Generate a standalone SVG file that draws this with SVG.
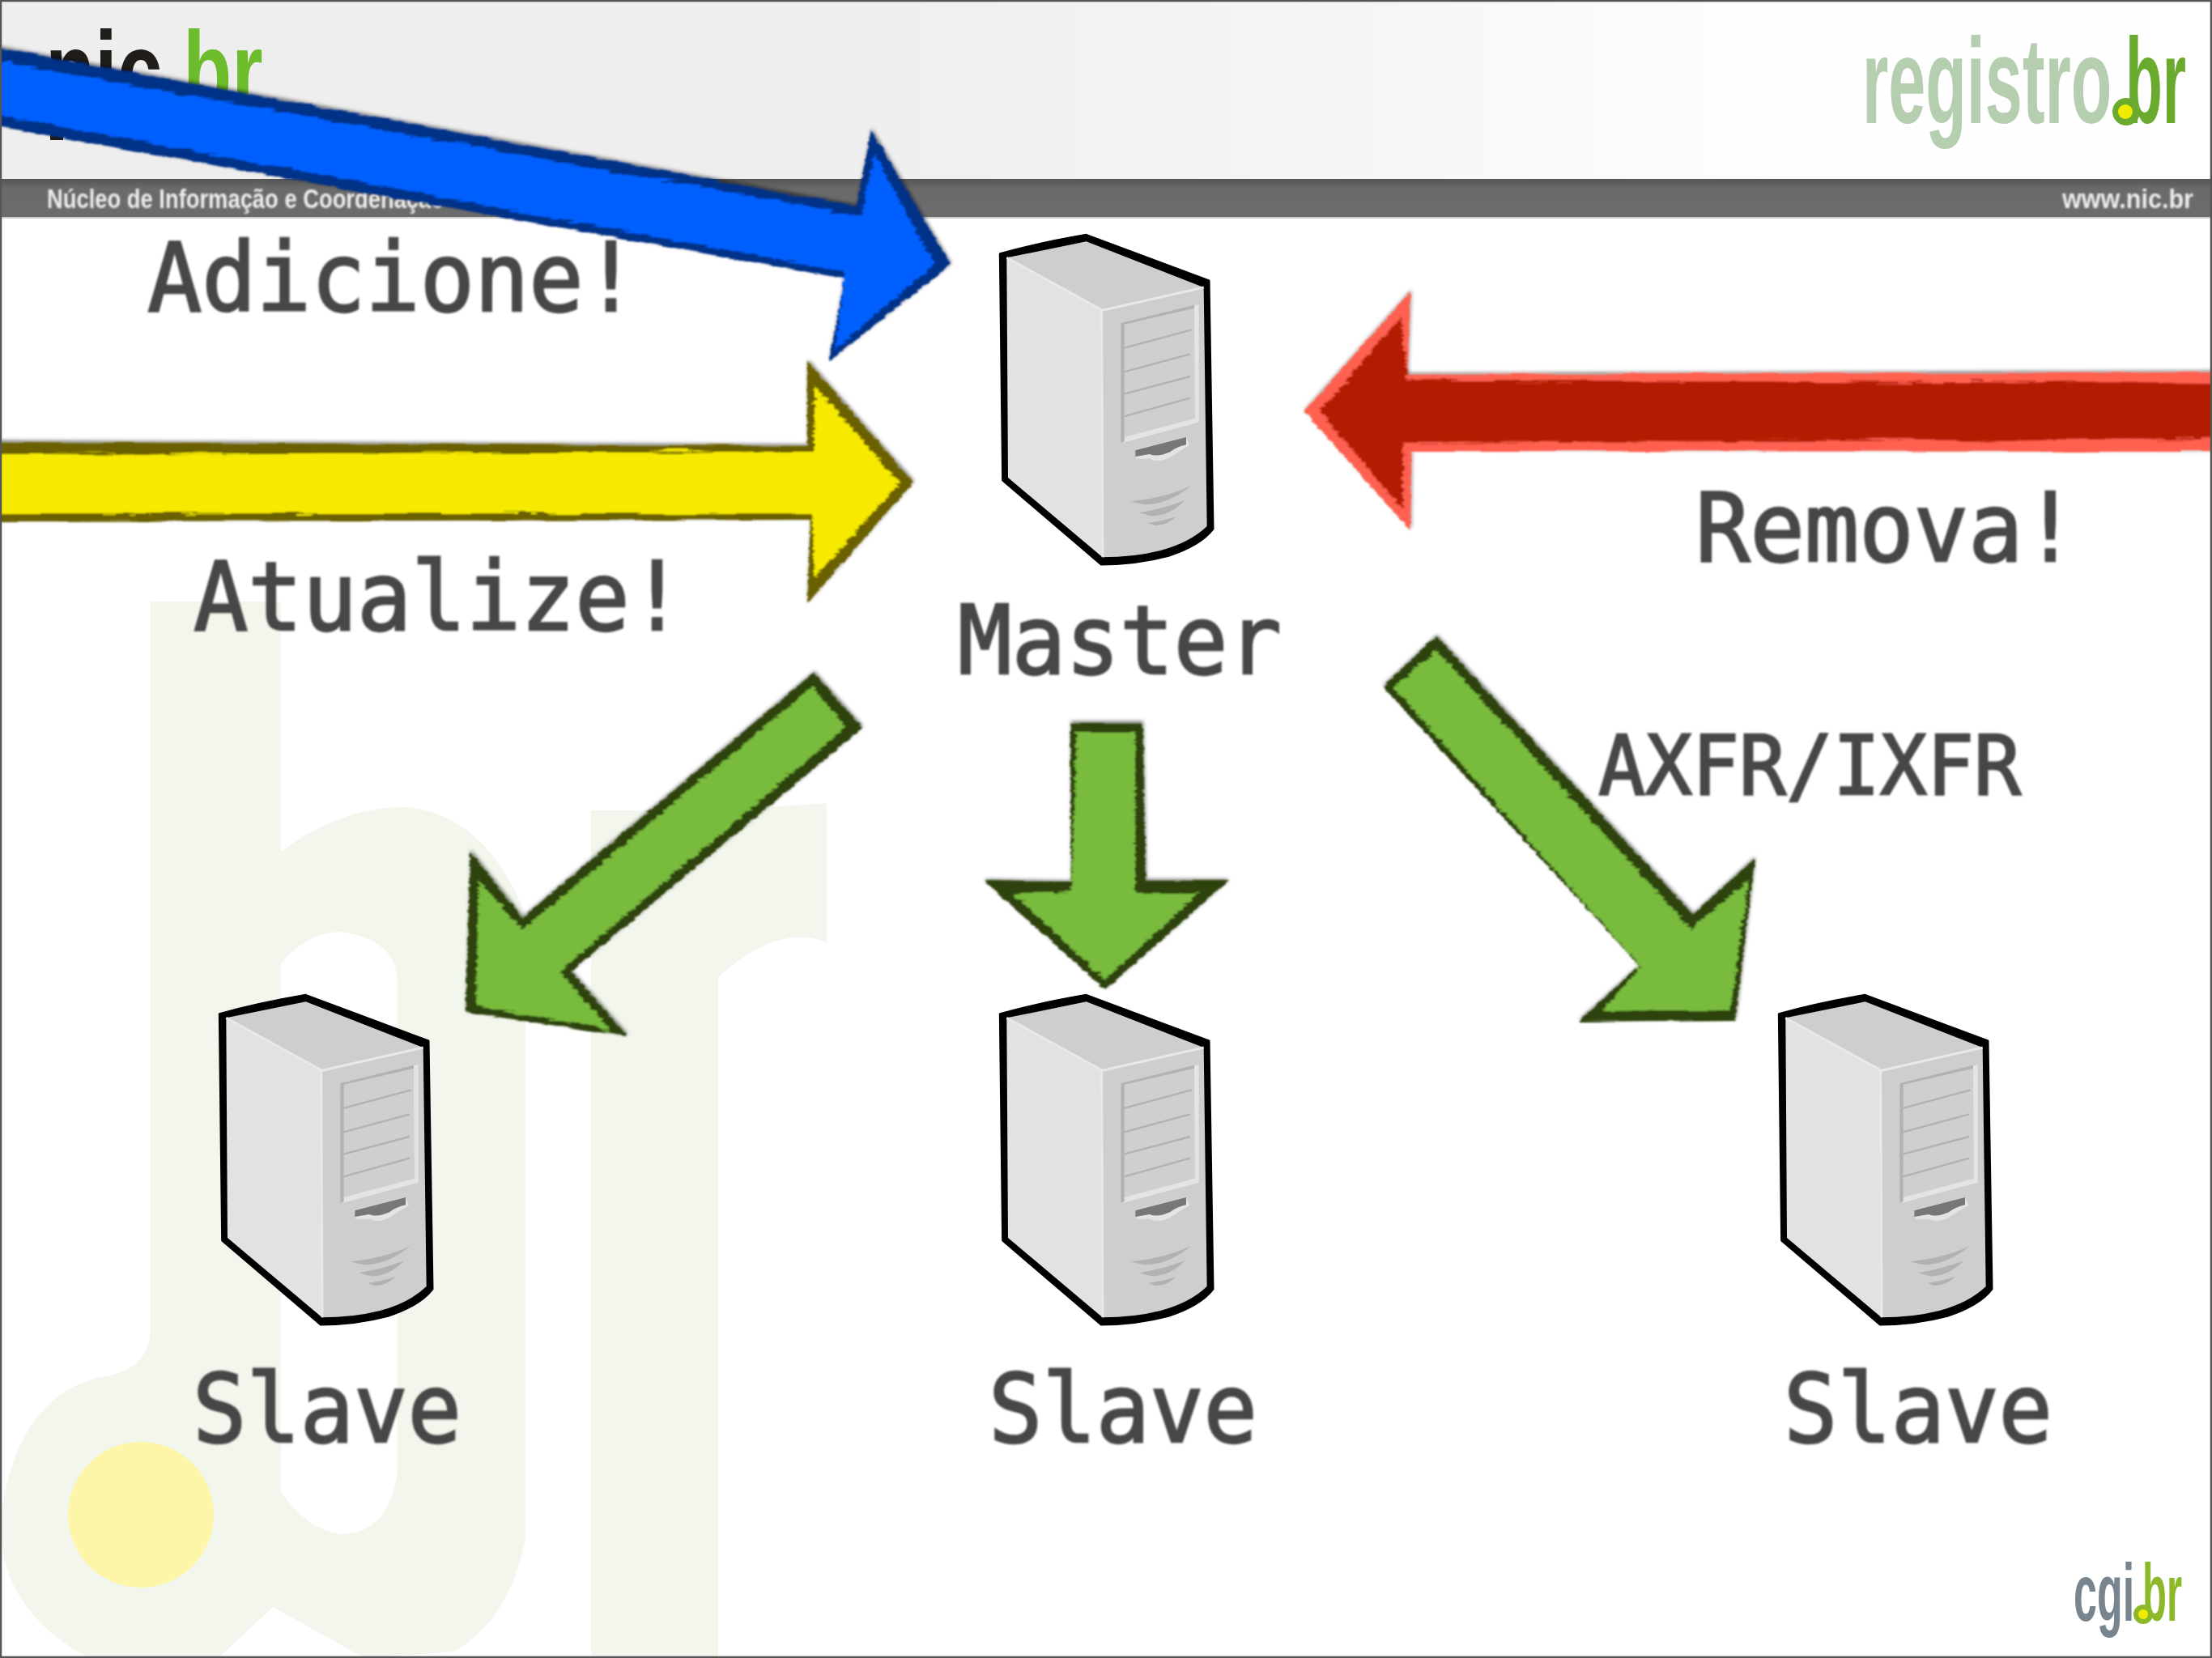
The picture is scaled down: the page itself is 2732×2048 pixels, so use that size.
<svg xmlns="http://www.w3.org/2000/svg" width="2732" height="2048" viewBox="0 0 2732 2048">
<style>
.label{font-family:"DejaVu Sans Mono","Liberation Mono",monospace;font-size:118px;fill:#464646;stroke:#464646;stroke-width:2.5px;filter:url(#soft)}
.small{font-size:102px}
.logo{font-family:"Liberation Sans","Noto Sans",sans-serif;font-weight:700}
.bar{font-family:"Liberation Sans","Noto Sans",sans-serif;font-weight:700;font-size:33px;fill:#ececec;filter:url(#soft)}
.wm{fill:#f2f6ec}
.arrow{filter:url(#rough)}
.fill{filter:url(#streak)}
.gedge{fill:#2d430e}.gfill{fill:#78bb3e}
</style>
<defs>
<linearGradient id="head" x1="0" x2="1" y1="0" y2="0">
<stop offset="0" stop-color="#eeeeee"/><stop offset=".38" stop-color="#eeeeee"/><stop offset=".6" stop-color="#f5f5f5"/><stop offset=".8" stop-color="#fefefe"/><stop offset="1" stop-color="#ffffff"/>
</linearGradient>
<linearGradient id="barg" x1="0" x2="0" y1="0" y2="1">
<stop offset="0" stop-color="#555555"/><stop offset=".25" stop-color="#6a6a6a"/><stop offset="1" stop-color="#6c6c6c"/>
</linearGradient>
<filter id="soft" x="-5%" y="-10%" width="110%" height="120%"><feGaussianBlur stdDeviation=".8"/></filter>
<filter id="streak" filterUnits="userSpaceOnUse" x="-40" y="-40" width="2812" height="2128">
<feTurbulence type="fractalNoise" baseFrequency=".01 .5" numOctaves="2" seed="9" result="n"/>
<feDisplacementMap in="SourceGraphic" in2="n" scale="9" xChannelSelector="R" yChannelSelector="G"/>
</filter>
<filter id="rough" filterUnits="userSpaceOnUse" x="-40" y="-40" width="2812" height="2128">
<feTurbulence type="fractalNoise" baseFrequency=".015 .25" numOctaves="2" seed="4" result="n"/>
<feDisplacementMap in="SourceGraphic" in2="n" scale="6" xChannelSelector="R" yChannelSelector="G" result="d"/>
<feGaussianBlur in="d" stdDeviation=".8" result="b"/>
<feGaussianBlur in="SourceAlpha" stdDeviation="2.5" result="sa"/>
<feOffset in="sa" dx="1" dy="-2" result="so"/>
<feFlood flood-color="#000" flood-opacity=".55"/>
<feComposite in2="so" operator="in" result="sh"/>
<feMerge><feMergeNode in="sh"/><feMergeNode in="b"/></feMerge>
</filter>
<g id="server" transform="scale(.33333)">
<path d="M255,190 Q400,150 575,120 L1030,290 L1045,1210 Q1000,1270 880,1310 Q760,1342 630,1342 L265,1030 Z" fill="#000" stroke="#000" stroke-width="7" stroke-linejoin="round"/>
<path d="M280,205 L635,400 L635,1315 L285,1020 Z" fill="#e2e2e2"/>
<path d="M280,205 L575,145 L1010,315 L635,400 Z" fill="#cecece"/>
<path d="M635,400 L1010,315 L1022,1200 Q960,1260 850,1290 Q750,1315 635,1315 Z" fill="#cecece"/>
<path d="M280,205 L635,400 L1010,315 M632,400 L636,1315" fill="none" stroke="#e8e8e8" stroke-width="9"/>
<path d="M703,447 L992,378 L992,815 L712,890 Z" fill="#e4e4e4"/>
<path d="M712,452 L975,388 L978,800 L716,870 Z" fill="#cfcfcf"/>
<path d="M703,447 L975,380 L975,392 L716,452 L716,885 L703,890 Z" fill="#b2b2b2"/>
<path d="M715,540 L965,472 M715,628 L960,562 M715,710 L960,645 M715,793 L960,725" fill="none" stroke="#b2b2b2" stroke-width="7"/>
<path d="M757,915 L945,870 L958,900 Q930,915 900,935 Q850,970 810,950 L760,950 Z" fill="#e4e4e4"/>
<path d="M757,918 L945,870 L945,898 Q910,905 885,925 Q840,945 810,933 L757,942 Z" fill="#777777"/>
<path d="M738,1108 Q870,1095 962,1050 Q880,1120 790,1120 Z M772,1150 Q860,1135 940,1105 Q880,1165 815,1162 Z M805,1188 Q860,1180 908,1165 Q870,1200 830,1197 Z" fill="#b2b2b2"/>
</g>
</defs>

<rect width="2732" height="2048" fill="#ffffff"/>

<g id="watermark">
<path class="wm" fill-rule="evenodd" d="M186,743 L347,743 L347,1052 Q420,997 500,997 Q600,1005 649,1130 L649,1900 Q630,2000 561,2040 L450,2048 L337,1985 L270,2048 L110,2048 Q0,1990 0,1880 Q20,1720 130,1700 Q186,1690 186,1640 Z M347,1190 Q380,1151 421,1151 Q491,1160 491,1216 L491,1818 Q480,1895 421,1895 Q380,1890 347,1843 Z"/>
<path class="wm" d="M730,1001 L887,1001 L1021,992 L1021,1164 Q960,1140 887,1207 L887,2048 L730,2048 Z"/>
<circle cx="174" cy="1871" r="90" fill="#fdf5a8"/>
</g>

<g id="header">
<rect x="0" y="0" width="2732" height="221" fill="url(#head)"/>
<rect x="0" y="221" width="2732" height="47" fill="url(#barg)"/>
<rect x="0" y="268" width="2732" height="2" fill="#cfcfcf"/>
<text class="logo" transform="translate(56 135) scale(.73 1)" font-size="137" fill="#201c1a">nic</text>
<rect x="62" y="130" width="16" height="43" fill="#201c1a"/>
<text class="logo" transform="translate(226 135) scale(.72 1)" font-size="137" fill="#6cbc2c">br</text>
<text class="bar" x="58" y="257" textLength="491" lengthAdjust="spacingAndGlyphs">Núcleo de Informação e Coordenação</text>
<text class="bar" x="2547" y="257" textLength="162" lengthAdjust="spacingAndGlyphs">www.nic.br</text>
<text class="logo" transform="translate(2300 152) scale(.552 1)" font-size="150" fill="#b5ceb0">registro</text>
<text class="logo" transform="translate(2625 152) scale(.5 1)" font-size="150" fill="#6aaa2e">br</text>
<circle cx="2626" cy="138" r="17" fill="#6aaa2e"/>
<circle cx="2625" cy="138" r="9" fill="#f0ec00"/>
<text class="logo" transform="translate(2561 2002) scale(.52 1)" font-size="100" fill="#78858f">cgi</text>
<text class="logo" transform="translate(2646 2002) scale(.49 1)" font-size="100" fill="#8db82a">br</text>
<circle cx="2647" cy="1994" r="12" fill="#8db82a"/>
<circle cx="2647" cy="1994" r="6" fill="#f0ec00"/>
</g>

<g id="connectors">
<g id="arrow-add" class="arrow">
<polygon fill="#003087" points="-30,54 1058,255 1076,161 1174,327 1024,446 1043,344 -30,151"/>
<polygon class="fill" fill="#0060ff" points="-30,70 1064,267 1080,190 1154,327 1032,431 1043,336 -30,137"/>
</g>
<g id="arrow-update" class="arrow">
<polygon fill="#6a6000" points="-30,546 997,551 997,446 1128,596 997,745 1001,642 -30,644"/>
<polygon class="fill" fill="#f7ea00" points="-30,561 1006,558 1006,477 1111,596 1006,714 1003,634 -30,634"/>
</g>
<g id="arrow-remove" class="arrow">
<polygon fill="#ff6150" points="2760,460 1738,463 1742,360 1611,508 1742,655 1743,557 2760,558"/>
<polygon class="fill" fill="#b31b00" points="2760,473 1738,470 1731,390 1630,508 1733,630 1733,547 2760,542"/>
</g>
<g id="arrow-left" class="arrow">
<polygon class="gedge" points="1005,831 1065,899 705,1200 775,1280 575,1250 581,1052 645,1134"/>
<polygon class="gfill fill" points="1003,848 1045,898 691,1200 754,1272 588,1242 591,1087 645,1149"/>
</g>
<g id="arrow-down" class="arrow">
<polygon class="gedge" points="1322,893 1411,893 1415,1088 1517,1088 1365,1222 1215,1088 1323,1090"/>
<polygon class="gfill fill" points="1330,904 1402,904 1402,1103 1480,1103 1365,1210 1251,1103 1323,1101"/>
</g>
<g id="arrow-right" class="arrow">
<polygon class="gedge" points="1774,786 1708,848 2025,1193 1949,1262 2143,1260 2167,1060 2091,1130"/>
<polygon class="gfill fill" points="1774,803 1721,849 2027,1195 1977,1250 2137,1248 2159,1087 2089,1148"/>
</g>
</g>

<g id="node-master">
<use href="#server" transform="translate(1150 250)"/>
<text class="label" x="1183" y="832" textLength="400" lengthAdjust="spacingAndGlyphs">Master</text>
</g>
<g id="node-slave-1">
<use href="#server" transform="translate(186 1189)"/>
<text class="label" x="238" y="1781" textLength="332" lengthAdjust="spacingAndGlyphs">Slave</text>
</g>
<g id="node-slave-2">
<use href="#server" transform="translate(1150 1189)"/>
<text class="label" x="1221" y="1781" textLength="332" lengthAdjust="spacingAndGlyphs">Slave</text>
</g>
<g id="node-slave-3">
<use href="#server" transform="translate(2112 1189)"/>
<text class="label" x="2203" y="1781" textLength="332" lengthAdjust="spacingAndGlyphs">Slave</text>
</g>
<g id="labels">
<text class="label" x="182" y="384" textLength="606" lengthAdjust="spacingAndGlyphs">Adicione!</text>
<text class="label" x="239" y="778" textLength="606" lengthAdjust="spacingAndGlyphs">Atualize!</text>
<text class="label" x="2094" y="693" textLength="472" lengthAdjust="spacingAndGlyphs">Remova!</text>
<text class="label small" x="1974" y="981" textLength="522" lengthAdjust="spacingAndGlyphs">AXFR/IXFR</text>
</g>
<rect x="1" y="1" width="2730" height="2046" fill="none" stroke="#555555" stroke-width="2.5"/>
</svg>
